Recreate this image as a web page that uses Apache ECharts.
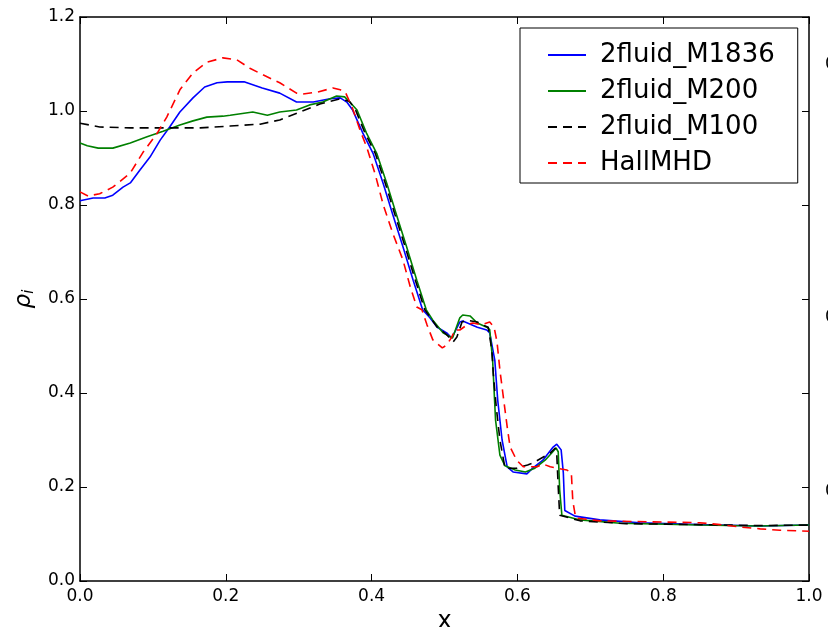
<!DOCTYPE html>
<html>
<head>
<meta charset="utf-8">
<script src="https://cdn.jsdelivr.net/npm/echarts@6/dist/echarts.min.js"></script>
<style>
  html, body { margin: 0; padding: 0; background: #fff; }
  #container { width: 828px; height: 627px; }
</style>
</head>
<body>
<div id="container"></div>
<script>
// 数据区 —— 近似值
var seriesNames = ['2fluid_M1836', '2fluid_M200', '2fluid_M100', 'HallMHD'];
var xTicks = [0, 0.2, 0.4, 0.6, 0.8, 1.0];
var yTicks = [0, 0.2, 0.4, 0.6, 0.8, 1.0, 1.2];

var xM1836 = [0.000,0.018,0.034,0.045,0.059,0.069,0.082,0.096,0.110,0.123,0.137,0.155,0.171,0.188,0.202,0.225,0.250,0.274,0.297,0.320,0.343,0.357,0.366,0.374,0.388,0.402,0.416,0.429,0.443,0.457,0.470,0.480,0.490,0.503,0.510,0.521,0.525,0.545,0.558,0.562,0.569,0.573,0.579,0.586,0.594,0.613,0.621,0.635,0.649,0.654,0.660,0.663,0.665,0.679,0.713,0.768,0.850,0.933,1.000];
var yM1836 = [0.809,0.815,0.815,0.821,0.838,0.847,0.874,0.902,0.938,0.966,0.998,1.028,1.051,1.060,1.062,1.062,1.049,1.038,1.019,1.019,1.026,1.028,1.019,1.002,0.953,0.910,0.845,0.780,0.711,0.640,0.577,0.560,0.540,0.528,0.517,0.551,0.553,0.540,0.534,0.528,0.470,0.385,0.300,0.243,0.232,0.228,0.240,0.257,0.285,0.291,0.279,0.230,0.150,0.138,0.130,0.124,0.120,0.117,0.119];

var xM200 = [0.000,0.010,0.025,0.045,0.069,0.092,0.114,0.137,0.155,0.174,0.196,0.206,0.237,0.257,0.274,0.297,0.315,0.333,0.352,0.363,0.370,0.380,0.393,0.407,0.421,0.434,0.448,0.462,0.475,0.484,0.498,0.511,0.521,0.525,0.535,0.545,0.558,0.562,0.566,0.570,0.576,0.583,0.597,0.611,0.624,0.638,0.648,0.653,0.656,0.658,0.661,0.686,0.741,0.850,0.930,1.000];
var yM200 = [0.932,0.926,0.921,0.921,0.932,0.945,0.957,0.970,0.979,0.987,0.989,0.991,0.998,0.991,0.998,1.002,1.013,1.019,1.032,1.030,1.019,1.002,0.953,0.910,0.845,0.780,0.711,0.640,0.577,0.555,0.528,0.517,0.560,0.566,0.564,0.549,0.540,0.535,0.470,0.343,0.268,0.245,0.236,0.232,0.240,0.257,0.274,0.283,0.275,0.194,0.140,0.130,0.123,0.119,0.117,0.119];

var xM100 = [0.000,0.027,0.069,0.123,0.165,0.206,0.247,0.274,0.302,0.329,0.357,0.370,0.378,0.391,0.405,0.419,0.432,0.446,0.460,0.473,0.480,0.490,0.503,0.512,0.517,0.524,0.531,0.545,0.552,0.560,0.565,0.567,0.571,0.576,0.583,0.599,0.614,0.621,0.645,0.652,0.654,0.656,0.658,0.686,0.750,0.850,0.930,1.000];
var yM100 = [0.974,0.966,0.964,0.964,0.964,0.968,0.972,0.981,0.998,1.015,1.026,1.020,1.002,0.953,0.910,0.845,0.780,0.711,0.640,0.577,0.562,0.540,0.524,0.509,0.519,0.551,0.555,0.551,0.545,0.540,0.490,0.440,0.370,0.300,0.240,0.240,0.247,0.251,0.272,0.283,0.270,0.200,0.140,0.128,0.122,0.120,0.118,0.119];

var xHall = [0.000,0.011,0.027,0.045,0.069,0.086,0.106,0.119,0.137,0.155,0.174,0.196,0.215,0.233,0.251,0.274,0.297,0.305,0.325,0.347,0.357,0.364,0.374,0.384,0.394,0.405,0.416,0.429,0.443,0.453,0.462,0.469,0.476,0.484,0.497,0.503,0.510,0.514,0.521,0.531,0.539,0.551,0.562,0.568,0.572,0.576,0.580,0.586,0.590,0.599,0.608,0.627,0.635,0.645,0.654,0.668,0.674,0.676,0.680,0.713,0.782,0.850,0.878,0.905,0.933,0.960,1.000];
var yHall = [0.828,0.819,0.824,0.838,0.868,0.911,0.953,0.987,1.045,1.081,1.104,1.113,1.109,1.091,1.077,1.060,1.038,1.036,1.040,1.049,1.045,1.040,1.005,0.960,0.920,0.865,0.800,0.740,0.683,0.626,0.583,0.577,0.545,0.513,0.496,0.502,0.519,0.534,0.534,0.545,0.549,0.545,0.551,0.540,0.509,0.449,0.400,0.328,0.285,0.257,0.243,0.243,0.249,0.243,0.240,0.236,0.230,0.170,0.134,0.128,0.126,0.124,0.120,0.115,0.111,0.108,0.106];

function pairs(xs, ys) {
    return xs.map(function (x, i) { return [x, ys[i]]; });
}

var font = 'DejaVu Sans';
var myChart = echarts.init(document.getElementById('container'), null, {renderer: 'canvas'});

var axisLineStyle = {color: '#000', width: 1.5};
var tickStyle = {color: '#000', width: 1};

function lineSeries(name, data, color, dashed, z) {
    return {
        name: name,
        type: 'line',
        data: data,
        symbol: 'none',
        showSymbol: false,
        smooth: false,
        z: z,
        lineStyle: {color: color, width: 1.6, type: dashed ? [9, 6] : 'solid'},
        itemStyle: {color: color},
        emphasis: {disabled: true},
        animation: false
    };
}

var option = {
    animation: false,
    backgroundColor: '#fff',
    grid: {left: 80, top: 17, width: 729, height: 564, containLabel: false, outerBoundsMode: 'none'},
    legend: {
        orient: 'vertical',
        left: 520,
        top: 28,
        data: seriesNames,
        backgroundColor: '#fff',
        borderColor: '#000',
        borderWidth: 1,
        borderRadius: 0,
        padding: [14, 23, 7, 27],
        itemWidth: 38,
        itemHeight: 14,
        itemGap: 10,
        selectedMode: false,
        itemStyle: {opacity: 0},
        textStyle: {fontSize: 26, fontFamily: font, color: '#000', padding: [0, 0, 0, 9], lineHeight: 26}
    },
    xAxis: [{
        type: 'value',
        min: 0, max: 1, interval: 0.2,
        name: 'x',
        nameLocation: 'middle',
        nameGap: 24,
        nameTextStyle: {fontSize: 24, fontFamily: font, color: '#000'},
        axisLine: {show: true, onZero: false, lineStyle: axisLineStyle},
        axisTick: {show: true, inside: true, length: 7, lineStyle: tickStyle},
        axisLabel: {fontSize: 17, fontFamily: font, color: '#000', margin: 7,
            formatter: function (v) { return v.toFixed(1); }},
        splitLine: {show: false}
    }, {
        type: 'value',
        position: 'top',
        min: 0, max: 1, interval: 0.2,
        axisLine: {show: true, onZero: false, lineStyle: axisLineStyle},
        axisTick: {show: true, inside: true, length: 7, lineStyle: tickStyle},
        axisLabel: {show: false},
        splitLine: {show: false}
    }],
    yAxis: [{
        type: 'value',
        min: 0, max: 1.2, interval: 0.2,
        name: '{r|ρ}{s|i}',
        nameLocation: 'middle',
        nameGap: 36,
        nameTextStyle: {
            color: '#000',
            rich: {
                r: {fontSize: 23, fontStyle: 'italic', fontFamily: font, color: '#000', lineHeight: 30},
                s: {fontSize: 15, fontStyle: 'italic', fontFamily: font, color: '#000', padding: [12, 0, 0, 0], lineHeight: 30}
            }
        },
        axisLine: {show: true, onZero: false, lineStyle: axisLineStyle},
        axisTick: {show: true, inside: true, length: 7, lineStyle: tickStyle},
        axisLabel: {fontSize: 17, fontFamily: font, color: '#000', margin: 5,
            formatter: function (v) { return v.toFixed(1); }},
        splitLine: {show: false}
    }, {
        type: 'value',
        position: 'right',
        min: 0, max: 1.2, interval: 0.2,
        axisLine: {show: true, onZero: false, lineStyle: axisLineStyle},
        axisTick: {show: true, inside: true, length: 7, lineStyle: tickStyle},
        axisLabel: {show: false},
        splitLine: {show: false}
    }],
    graphic: [
        {type: 'text', left: 825, top: 56, style: {text: '0', fontSize: 17, fontFamily: font, fill: '#000'}},
        {type: 'text', left: 825, top: 309, style: {text: '0', fontSize: 17, fontFamily: font, fill: '#000'}},
        {type: 'text', left: 825, top: 483, style: {text: '0', fontSize: 17, fontFamily: font, fill: '#000'}}
    ],
    series: [
        lineSeries(seriesNames[0], pairs(xM1836, yM1836), '#0000ff', false, 2),
        lineSeries(seriesNames[1], pairs(xM200, yM200), '#008000', false, 3),
        lineSeries(seriesNames[2], pairs(xM100, yM100), '#000000', true, 4),
        lineSeries(seriesNames[3], pairs(xHall, yHall), '#ff0000', true, 5)
    ]
};

myChart.setOption(option, true);
</script>
</body>
</html>
